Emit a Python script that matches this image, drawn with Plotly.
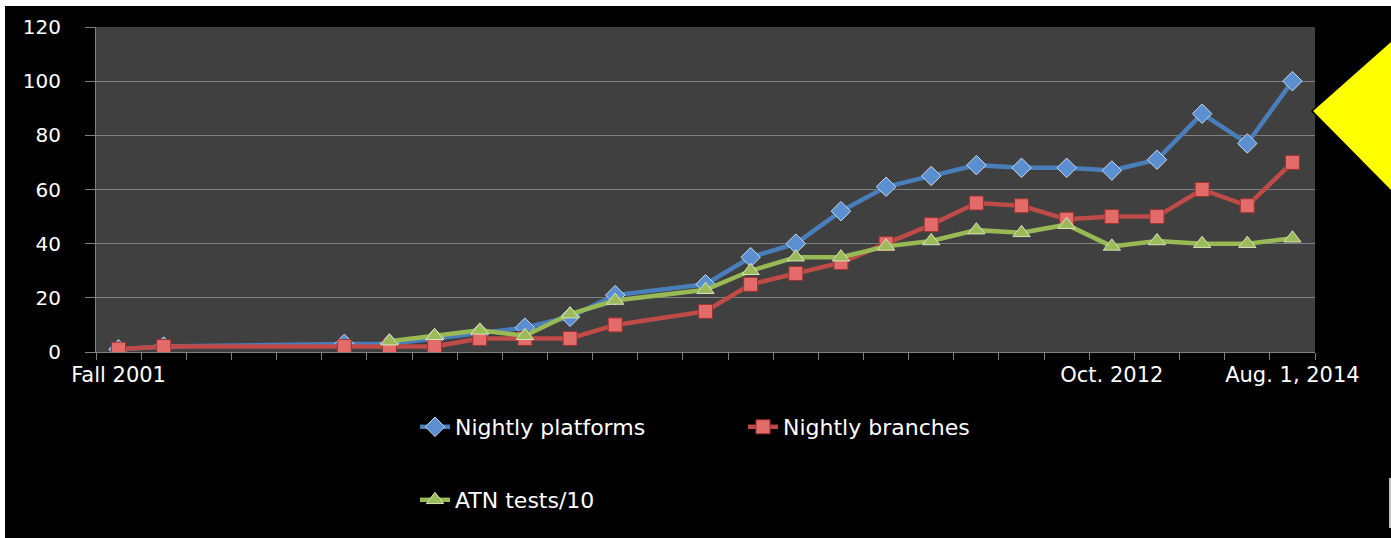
import plotly.graph_objects as go

# Category labels (only a few periods carry a visible label)
categories = ["Fall 2001"] + [""] * 21 + ["Oct. 2012", "", "", "", "Aug. 1, 2014"]

# Series values (None = no measurement for that period; line bridges the gap)
nightly_platforms = [1, 2, None, None, None, 3, 3, 5, 7, 9, 13, 21, None, 25, 35,
                     40, 52, 61, 65, 69, 68, 68, 67, 71, 88, 77, 100]
nightly_branches = [1, 2, None, None, None, 2, 2, 2, 5, 5, 5, 10, None, 15, 25,
                    29, 33, 40, 47, 55, 54, 49, 50, 50, 60, 54, 70]
atn_tests_div10 = [None, None, None, None, None, None, 4, 6, 8, 6, 14, 19, None, 23, 30,
                   35, 35, 39, 41, 45, 44, 47, 39, 41, 40, 40, 42]

y_ticks = [0, 20, 40, 60, 80, 100, 120]

# Figure geometry (pixels)
FIG_W, FIG_H = 1391, 538
L, R, T, B = 96, 1315, 27, 352
PW, PH = R - L, B - T


def px_x(px):
    return (px - L) / PW


def px_y(py):
    return (B - py) / PH


idx = list(range(len(categories)))
font_family = "DejaVu Sans"
grid_gray = "#808080"

fig = go.Figure()

series = [
    ("Nightly platforms", nightly_platforms, "#4a7ebb", "diamond", "#5b8fd0", "#c6d9f1", 15, "legend"),
    ("Nightly branches", nightly_branches, "#be4b48", "square", "#e36c6a", "#9c3330", 14, "legend"),
    ("ATN tests/10", atn_tests_div10, "#98b954", "triangle-up", "#9bbb59", "#d7e4bd", 15, "legend2"),
]

for name, vals, lc, sym, mfill, mline, msize, leg in series:
    fig.add_trace(go.Scatter(
        x=idx, y=vals, name=name, mode="lines+markers",
        connectgaps=True,
        line=dict(color=lc, width=4.5),
        marker=dict(symbol=sym, size=msize, color=mfill,
                    line=dict(color=mline, width=1)),
        legend=leg,
    ))

# Axis carrying the category labels at category centres
fig.add_trace(go.Scatter(x=idx, y=[None] * len(idx), xaxis="x2", showlegend=False,
                         hoverinfo="skip"))

label_idx = [i for i, c in enumerate(categories) if c]

fig.update_layout(
    width=FIG_W, height=FIG_H,
    margin=dict(l=L, r=FIG_W - R, t=T, b=FIG_H - B),
    paper_bgcolor="black",
    plot_bgcolor="#404040",
    font=dict(family=font_family, color="white", size=20),
    xaxis=dict(
        range=[-0.5, len(categories) - 0.5],
        tickvals=[i - 0.5 for i in range(len(categories) + 1)],
        showticklabels=False,
        ticks="outside", ticklen=7, tickcolor=grid_gray, tickwidth=1,
        showgrid=False, zeroline=False,
        showline=True, linecolor=grid_gray, linewidth=1,
    ),
    xaxis2=dict(
        overlaying="x", matches="x", side="bottom",
        tickvals=label_idx, ticktext=[categories[i] for i in label_idx],
        ticks="", showgrid=False, zeroline=False, showline=False,
        tickfont=dict(size=21, color="white", family=font_family),
        ticklabelstandoff=8,
    ),
    yaxis=dict(
        range=[0, 120], tickvals=y_ticks,
        ticks="outside", ticklen=10, tickcolor=grid_gray, tickwidth=1,
        showgrid=True, gridcolor=grid_gray, gridwidth=1,
        zeroline=False, showline=True, linecolor=grid_gray, linewidth=1,
        tickfont=dict(size=20, color="white", family=font_family),
        ticklabelstandoff=20,
    ),
    legend=dict(
        orientation="h", x=px_x(415), xanchor="left", y=px_y(427), yanchor="middle",
        bgcolor="rgba(0,0,0,0)", font=dict(size=22, color="white", family=font_family),
        entrywidth=283, entrywidthmode="pixels", traceorder="normal",
    ),
    legend2=dict(
        orientation="h", x=px_x(415), xanchor="left", y=px_y(500), yanchor="middle",
        bgcolor="rgba(0,0,0,0)", font=dict(size=22, color="white", family=font_family),
    ),
    showlegend=True,
)

# Slide decorations around the chart
fig.add_shape(type="rect", xref="paper", yref="paper",
              x0=px_x(0), x1=px_x(FIG_W), y0=px_y(0), y1=px_y(6),
              fillcolor="white", line_width=0, layer="above")
fig.add_shape(type="rect", xref="paper", yref="paper",
              x0=px_x(0), x1=px_x(5), y0=px_y(0), y1=px_y(FIG_H),
              fillcolor="white", line_width=0, layer="above")
tri = [(1312, 111), (1392, 40), (1392, 192)]
path = "M " + " L ".join(f"{px_x(a):.5f},{px_y(b):.5f}" for a, b in tri) + " Z"
fig.add_shape(type="path", xref="paper", yref="paper", path=path,
              fillcolor="#ffff00", line=dict(color="black", width=1.5), layer="above")
fig.add_shape(type="line", xref="paper", yref="paper",
              x0=px_x(1390), x1=px_x(1390), y0=px_y(478), y1=px_y(528),
              line=dict(color="white", width=1.5), layer="above")

fig.write_html("out.html")
